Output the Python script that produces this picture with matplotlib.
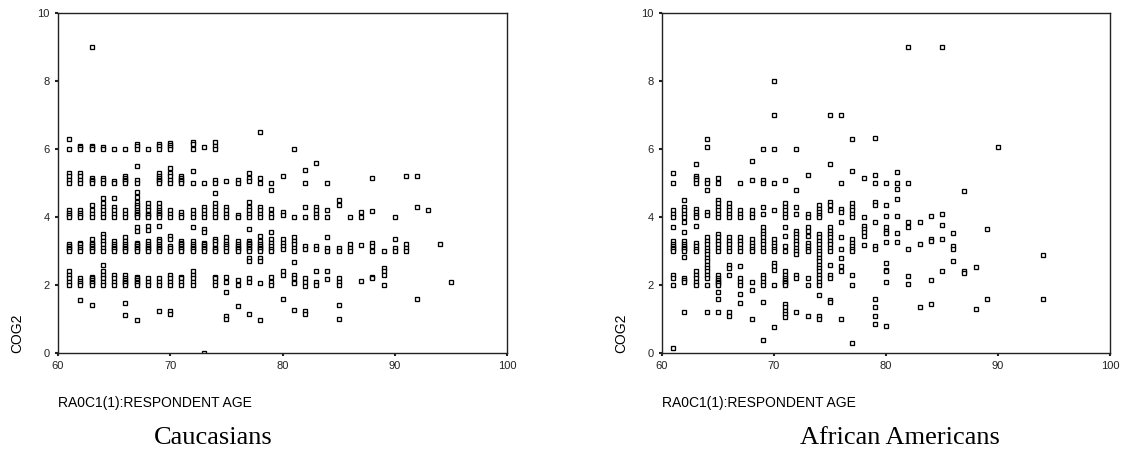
import matplotlib
matplotlib.use("Agg")
import matplotlib.pyplot as plt

# ages and COG2 scores (one inner list per age)
CAUC_AGES = [61, 62, 63, 64, 65, 66, 67, 68, 69, 70, 71, 72, 73, 74, 75, 76, 77, 78,
    79, 80, 81, 82, 83, 84, 85, 86, 87, 88, 89, 90, 91, 92, 93, 94, 95]
CAUC_COG2 = [
    [6.3, 6.0, 5.3, 5.2, 5.1, 5.0, 4.2, 4.13, 4.07, 4.0, 3.2, 3.15, 3.1, 3.05, 3.0, 2.4, 2.3, 2.2, 2.1, 2.0],
    [6.1, 6.05, 6.0, 5.3, 5.2, 5.1, 5.0, 4.2, 4.13, 4.07, 4.0, 3.25, 3.2, 3.13, 3.07, 3.0, 2.2, 2.13, 2.07, 2.0, 1.55],
    [9.0, 6.1, 6.05, 6.0, 5.15, 5.1, 5.05, 5.0, 4.35, 4.2, 4.1, 4.0, 3.35, 3.25, 3.2, 3.15, 3.1, 3.05, 3.0,
     2.25, 2.2, 2.15, 2.1, 2.05, 2.0, 1.4],
    [6.07, 6.0, 5.15, 5.1, 5.0, 4.55, 4.4, 4.3, 4.2, 4.1, 4.0, 3.5, 3.4, 3.3, 3.2, 3.1, 3.0, 2.6, 2.4, 2.3,
     2.2, 2.1, 2.0],
    [6.0, 5.07, 5.0, 4.55, 4.3, 4.2, 4.1, 4.0, 3.3, 3.2, 3.15, 3.1, 3.05, 3.0, 2.3, 2.2, 2.1, 2.0],
    [6.0, 5.2, 5.15, 5.1, 5.05, 5.0, 4.2, 4.1, 4.0, 3.4, 3.3, 3.2, 3.15, 3.1, 3.05, 3.0, 2.3, 2.2, 2.15,
     2.1, 2.05, 2.0, 1.48, 1.12],
    [6.15, 6.1, 6.0, 5.5, 5.1, 5.0, 4.75, 4.6, 4.45, 4.35, 4.3, 4.2, 4.15, 4.1, 4.05, 4.0, 3.72, 3.6, 3.25,
     3.2, 3.15, 3.1, 3.05, 3.0, 2.25, 2.2, 2.15, 2.1, 2.05, 2.0, 0.97],
    [6.0, 4.4, 4.3, 4.2, 4.1, 4.05, 4.0, 3.75, 3.62, 3.3, 3.2, 3.15, 3.1, 3.05, 3.0, 2.2, 2.1, 2.0],
    [6.15, 6.1, 6.0, 5.3, 5.2, 5.15, 5.1, 5.05, 5.0, 4.4, 4.3, 4.2, 4.15, 4.1, 4.05, 4.0, 3.75, 3.35, 3.3,
     3.2, 3.15, 3.1, 3.05, 3.0, 2.2, 2.1, 2.0, 1.25],
    [6.17, 6.13, 6.07, 6.0, 5.45, 5.3, 5.2, 5.1, 5.0, 4.2, 4.1, 4.0, 3.45, 3.35, 3.15, 3.1, 3.0, 2.3, 2.2,
     2.1, 2.0, 1.25, 1.15],
    [5.2, 5.15, 5.1, 5.05, 5.0, 4.15, 4.07, 4.0, 3.3, 3.25, 3.2, 3.15, 3.1, 3.05, 3.0, 2.25, 2.2, 2.1, 2.0],
    [6.2, 6.15, 6.0, 5.35, 5.0, 4.2, 4.1, 4.0, 3.7, 3.3, 3.2, 3.15, 3.1, 3.05, 3.0, 2.4, 2.3, 2.2, 2.1, 2.0],
    [6.05, 5.0, 4.3, 4.2, 4.1, 4.0, 3.65, 3.55, 3.25, 3.2, 3.15, 3.1, 3.05, 3.0, 0.0],
    [6.2, 6.1, 6.0, 5.1, 5.0, 4.7, 4.4, 4.3, 4.2, 4.1, 4.0, 3.35, 3.3, 3.2, 3.1, 3.05, 3.0, 2.25, 2.2, 2.1, 2.0],
    [5.05, 4.3, 4.2, 4.1, 4.0, 3.4, 3.3, 3.2, 3.15, 3.1, 3.0, 2.25, 2.1, 1.8, 1.1, 1.0],
    [5.1, 5.0, 4.05, 4.0, 3.3, 3.2, 3.15, 3.1, 3.05, 3.0, 2.15, 2.0, 1.38],
    [5.3, 5.15, 5.05, 4.45, 4.3, 4.2, 4.1, 4.0, 3.65, 3.3, 3.25, 3.2, 3.15, 3.1, 3.05, 3.0, 2.8, 2.72, 2.2,
     2.1, 1.15],
    [6.5, 5.15, 5.0, 4.3, 4.2, 4.1, 4.0, 3.45, 3.3, 3.2, 3.15, 3.1, 3.05, 3.0, 2.8, 2.7, 2.07, 0.97],
    [5.0, 4.8, 4.25, 4.1, 4.0, 3.55, 3.35, 3.25, 3.15, 3.05, 3.0, 2.25, 2.1, 2.0],
    [5.2, 4.15, 4.05, 3.35, 3.25, 3.15, 3.05, 2.4, 2.3, 1.6],
    [6.0, 4.0, 3.4, 3.3, 3.2, 3.1, 3.0, 2.68, 2.3, 2.2, 2.1, 2.05, 1.26],
    [5.38, 5.0, 4.28, 4.0, 3.15, 3.05, 2.2, 2.1, 1.97, 1.25, 1.15],
    [5.6, 4.3, 4.2, 4.1, 4.0, 3.15, 3.05, 2.41, 2.1, 2.0],
    [5.0, 4.2, 4.0, 3.42, 3.1, 3.0, 2.41, 2.17],
    [4.5, 4.35, 3.1, 3.0, 2.2, 2.1, 2.0, 1.41, 1.0],
    [4.0, 3.2, 3.1, 3.0],
    [4.15, 4.0, 3.17, 2.13],
    [5.14, 4.18, 3.25, 3.15, 3.0, 2.25, 2.2],
    [3.0, 2.5, 2.4, 2.3, 1.99],
    [4.0, 3.35, 3.1, 3.0],
    [5.2, 3.2, 3.1, 3.0],
    [5.2, 4.3, 1.6],
    [4.2],
    [3.2],
    [2.09],
]

AFAM_AGES = [61, 62, 63, 64, 65, 66, 67, 68, 69, 70, 71, 72, 73, 74, 75, 76, 77, 78,
    79, 80, 81, 82, 83, 84, 85, 86, 87, 88, 89, 90, 94]
AFAM_COG2 = [
    [5.3, 5.0, 4.2, 4.1, 4.0, 3.7, 3.3, 3.2, 3.15, 3.1, 3.05, 3.0, 2.3, 2.2, 2.0, 0.15],
    [4.5, 4.3, 4.2, 4.1, 4.0, 3.85, 3.55, 3.3, 3.2, 3.15, 3.1, 3.05, 3.0, 2.83, 2.2, 2.15, 2.1, 1.2],
    [5.55, 5.2, 5.15, 5.1, 5.0, 4.25, 4.15, 4.05, 4.0, 3.75, 3.25, 3.15, 3.05, 3.0, 2.4, 2.3, 2.2, 2.1, 2.0],
    [6.3, 6.05, 5.1, 5.0, 4.8, 4.15, 4.05, 3.4, 3.3, 3.2, 3.1, 3.0, 2.9, 2.8, 2.7, 2.6, 2.5, 2.4, 2.3, 2.2,
     2.0, 1.2],
    [5.15, 5.0, 4.5, 4.4, 4.3, 4.2, 4.1, 4.0, 3.5, 3.4, 3.3, 3.2, 3.1, 3.0, 2.3, 2.2, 2.15, 2.1, 2.05, 2.0,
     1.8, 1.6, 1.2],
    [4.4, 4.3, 4.2, 4.1, 4.0, 3.4, 3.3, 3.2, 3.1, 3.0, 2.6, 2.5, 2.3, 1.2, 1.1],
    [5.0, 4.2, 4.1, 4.0, 3.4, 3.3, 3.2, 3.1, 3.0, 2.55, 2.2, 2.1, 2.0, 1.75, 1.47],
    [5.65, 5.1, 4.2, 4.1, 4.0, 3.35, 3.25, 3.15, 3.05, 3.0, 2.1, 1.85, 1.0],
    [6.0, 5.1, 5.0, 4.3, 4.1, 3.7, 3.6, 3.5, 3.4, 3.3, 3.2, 3.1, 3.0, 2.3, 2.2, 2.1, 2.0, 1.5, 0.38],
    [8.0, 7.0, 6.0, 5.0, 4.2, 3.35, 3.25, 3.15, 3.05, 3.0, 2.65, 2.55, 2.45, 2.0, 0.77],
    [5.08, 4.4, 4.3, 4.2, 4.1, 4.0, 3.7, 3.45, 3.15, 3.0, 2.4, 2.3, 2.2, 2.15, 2.1, 2.05, 2.0, 1.45, 1.35,
     1.25, 1.15, 1.05],
    [6.0, 4.8, 4.3, 4.1, 3.6, 3.5, 3.4, 3.3, 3.2, 3.1, 3.0, 2.9, 2.3, 2.2, 1.2],
    [5.25, 4.1, 4.0, 3.7, 3.6, 3.45, 3.25, 3.15, 3.05, 3.0, 2.2, 2.0, 1.1],
    [4.35, 4.25, 4.15, 4.05, 4.0, 3.5, 3.4, 3.3, 3.2, 3.1, 3.0, 2.9, 2.8, 2.7, 2.6, 2.5, 2.4, 2.3, 2.2, 2.1,
     2.0, 1.7, 1.1, 1.0],
    [7.0, 5.55, 4.45, 4.35, 4.2, 3.7, 3.6, 3.5, 3.4, 3.3, 3.2, 3.1, 3.0, 2.6, 2.3, 2.2, 1.55, 1.5],
    [7.0, 5.0, 4.25, 4.15, 3.85, 3.4, 3.05, 2.8, 2.55, 2.4, 1.0],
    [6.28, 5.35, 4.4, 4.3, 4.2, 4.1, 4.0, 3.35, 3.25, 3.15, 3.05, 3.0, 2.3, 2.0, 0.3],
    [5.15, 4.0, 3.75, 3.65, 3.55, 3.45, 3.17],
    [6.33, 5.25, 5.0, 4.45, 4.35, 3.85, 3.15, 3.05, 1.6, 1.35, 1.1, 0.85],
    [5.01, 4.35, 4.03, 3.7, 3.6, 3.52, 3.27, 2.64, 2.45, 2.4, 2.08, 0.79],
    [5.31, 5.01, 4.81, 4.52, 4.03, 3.54, 3.27],
    [9.0, 5.01, 3.85, 3.7, 3.05, 2.27, 2.02],
    [3.85, 3.2, 1.36],
    [4.03, 3.35, 3.3, 2.15, 1.43],
    [9.0, 4.1, 3.76, 3.34, 2.41],
    [3.54, 3.15, 3.05, 2.7],
    [4.76, 2.42, 2.35],
    [2.54, 1.28],
    [3.64, 1.58],
    [6.07],
    [2.88, 1.58],
]

X_TICKS = [60, 70, 80, 90, 100]
Y_TICKS = [0, 2, 4, 6, 8, 10]
X_LABEL = "RA0C1(1):RESPONDENT AGE"
Y_LABEL = "COG2"


def expand(ages, values):
    xs, ys = [], []
    for age, vals in zip(ages, values):
        for v in vals:
            xs.append(age)
            ys.append(v)
    return xs, ys


plt.rcParams['font.family'] = ['Liberation Sans', 'DejaVu Sans']

fig = plt.figure(figsize=(11.23, 4.5), dpi=100)
W, H = 1123, 450
ax1 = fig.add_axes([58 / W, 97 / H, 449 / W, 340 / H])
ax2 = fig.add_axes([662 / W, 97 / H, 448 / W, 340 / H])

panels = [
    (ax1, CAUC_AGES, CAUC_COG2, "Caucasians", 0.345),
    (ax2, AFAM_AGES, AFAM_COG2, "African Americans", 0.532),
]

for ax, ages, vals, title, tx in panels:
    xs, ys = expand(ages, vals)
    ax.plot(xs, ys, linestyle='none', marker='s', markersize=3.5,
            markerfacecolor='white', markeredgecolor='black', markeredgewidth=0.95)
    ax.set_xlim(60, 100)
    ax.set_ylim(0, 10)
    ax.set_xticks(X_TICKS)
    ax.set_yticks(Y_TICKS)
    ax.tick_params(direction='out', length=2, width=1.5, labelsize=8, pad=4,
                   colors='#222222')
    for s in ax.spines.values():
        s.set_linewidth(1.0)
        s.set_color('#222222')
    ax.set_ylabel(Y_LABEL, loc='bottom', fontsize=10)
    ax.yaxis.set_label_coords(-0.075, 0)
    ax.set_xlabel(X_LABEL, loc='left', fontsize=10)
    ax.xaxis.set_label_coords(0, -0.125)
    ax.text(tx, -0.25, title, transform=ax.transAxes, ha='center', va='center',
            fontsize=19, family='Liberation Serif')

fig.savefig("out.png", dpi=100)
